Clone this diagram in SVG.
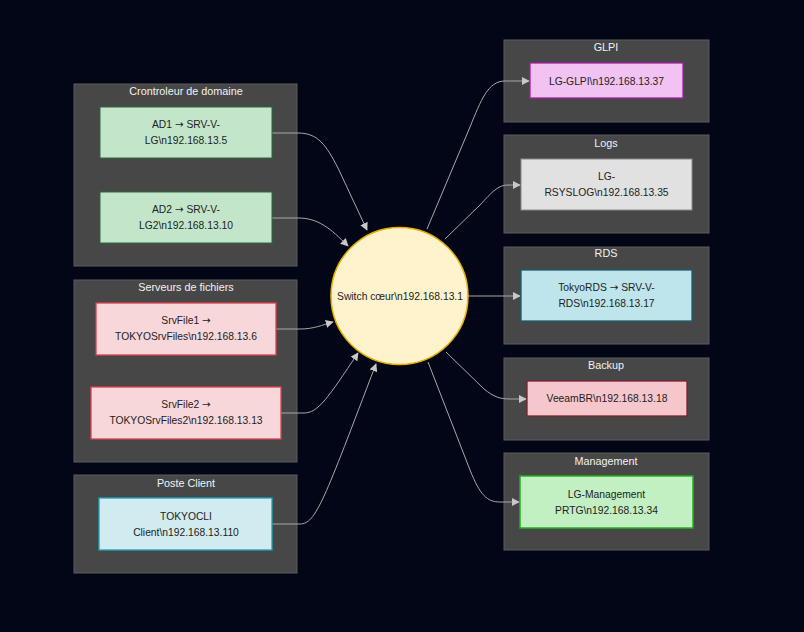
<svg xmlns="http://www.w3.org/2000/svg" width="804" height="632" viewBox="0 0 804 632">
<defs>
<marker id="arr" viewBox="0 0 10 10" refX="9" refY="5" markerWidth="8" markerHeight="8" markerUnits="userSpaceOnUse" orient="auto">
<path d="M0,0 L10,5 L0,10 z" fill="#c8c8c8"/>
</marker>
<style>
.cl{fill:#474747;stroke:#5c5c5c;stroke-width:1}
.ct{font-family:"Liberation Sans",Arial,sans-serif;font-size:10.8px;fill:#f2f2f2;text-anchor:middle}
.nt{font-family:"Liberation Sans",Arial,sans-serif;font-size:10.3px;fill:#222;text-anchor:middle}
.ar{font-family:"DejaVu Sans",sans-serif}
.e{fill:none;stroke:#a8a8a8;stroke-width:1;marker-end:url(#arr)}
</style>
</defs>
<rect width="804" height="632" fill="#020617"/>

<g id="cluster-dc">
<rect class="cl" x="74" y="84" width="223" height="182"/>
<text class="ct" x="186" y="95">Crontroleur de domaine</text>
</g>
<g id="cluster-files">
<rect class="cl" x="74" y="280" width="223" height="182"/>
<text class="ct" x="186" y="291">Serveurs de fichiers</text>
</g>
<g id="cluster-client">
<rect class="cl" x="74" y="475" width="223" height="98"/>
<text class="ct" x="186" y="487">Poste Client</text>
</g>
<g id="cluster-glpi">
<rect class="cl" x="504" y="40" width="205" height="82"/>
<text class="ct" x="606" y="51">GLPI</text>
</g>
<g id="cluster-logs">
<rect class="cl" x="504" y="135" width="205" height="98"/>
<text class="ct" x="606" y="147">Logs</text>
</g>
<g id="cluster-rds">
<rect class="cl" x="504" y="247" width="205" height="97"/>
<text class="ct" x="606" y="257">RDS</text>
</g>
<g id="cluster-backup">
<rect class="cl" x="504" y="358" width="205" height="82"/>
<text class="ct" x="606" y="369">Backup</text>
</g>
<g id="cluster-mgmt">
<rect class="cl" x="504" y="453" width="205" height="97"/>
<text class="ct" x="606" y="465">Management</text>
</g>

<g id="edges">
<path class="e" d="M272,133 L298,133 C318,133 326,145 338,168 L367,230"/>
<path class="e" d="M272,218 L298,218 C318,218 330,228 348,246"/>
<path class="e" d="M276,329 L300,329 C314,329 322,325 333,322"/>
<path class="e" d="M281,413 L304,413 C318,413 328,398 358,353"/>
<path class="e" d="M272,524 L300,524 C316,524 324,500 376,364"/>
<path class="e" d="M427,229 L470,127 C481,100 488,81 505,81 L529,81"/>
<path class="e" d="M445,239 L480,205 C492,192 498,185 508,185 L520,185"/>
<path class="e" d="M468,296 L520,296"/>
<path class="e" d="M446,352 L484,389 C494,397 500,399 510,399 L526,399"/>
<path class="e" d="M428,362 L470,470 C480,495 487,502 500,502 L519,502"/>
</g>

<g id="AD1">
<rect x="100" y="107" width="172" height="51" fill="#c3e6cb" stroke="#2b6a3a"/>
<text class="nt" x="186" y="128">AD1 <tspan class="ar">→</tspan> SRV-V-</text>
<text class="nt" x="186" y="144">LG\n192.168.13.5</text>
</g>
<g id="AD2">
<rect x="100" y="192" width="172" height="51" fill="#c3e6cb" stroke="#2b6a3a"/>
<text class="nt" x="186" y="213">AD2 <tspan class="ar">→</tspan> SRV-V-</text>
<text class="nt" x="186" y="229">LG2\n192.168.13.10</text>
</g>
<g id="SrvFile1">
<rect x="96" y="303" width="180" height="52" fill="#f8d7da" stroke="#d9414f" stroke-width="1.3"/>
<text class="nt" x="186" y="324">SrvFile1 <tspan class="ar">→</tspan></text>
<text class="nt" x="186" y="340">TOKYOSrvFiles\n192.168.13.6</text>
</g>
<g id="SrvFile2">
<rect x="91" y="387" width="190" height="52" fill="#f8d7da" stroke="#d9414f" stroke-width="1.3"/>
<text class="nt" x="186" y="408">SrvFile2 <tspan class="ar">→</tspan></text>
<text class="nt" x="186" y="424">TOKYOSrvFiles2\n192.168.13.13</text>
</g>
<g id="TOKYOCLI">
<rect x="99" y="498" width="173" height="52" fill="#d1ecf1" stroke="#1fa3b8" stroke-width="1.3"/>
<text class="nt" x="186" y="520">TOKYOCLI</text>
<text class="nt" x="186" y="536">Client\n192.168.13.110</text>
</g>
<g id="Switch">
<circle cx="399.5" cy="296" r="68.5" fill="#fff3cd" stroke="#e8b100" stroke-width="1.5"/>
<text class="nt" x="400" y="300">Switch cœur\n192.168.13.1</text>
</g>
<g id="GLPI">
<rect x="530" y="63" width="153" height="35" fill="#f2c2f2" stroke="#a321a3" stroke-width="1.3"/>
<text class="nt" x="606.5" y="85">LG-GLPI\n192.168.13.37</text>
</g>
<g id="RSYSLOG">
<rect x="521" y="159" width="171" height="51" fill="#e1e1e1" stroke="#8a8a8a"/>
<text class="nt" x="606.5" y="180">LG-</text>
<text class="nt" x="606.5" y="196">RSYSLOG\n192.168.13.35</text>
</g>
<g id="TokyoRDS">
<rect x="521" y="270" width="171" height="51" fill="#bee5eb" stroke="#17606c" stroke-width="1.3"/>
<text class="nt" x="606.5" y="291">TokyoRDS <tspan class="ar">→</tspan> SRV-V-</text>
<text class="nt" x="606.5" y="307">RDS\n192.168.13.17</text>
</g>
<g id="VeeamBR">
<rect x="527" y="381" width="160" height="35" fill="#f5c6cb" stroke="#7b2230" stroke-width="1.3"/>
<text class="nt" x="607" y="402">VeeamBR\n192.168.13.18</text>
</g>
<g id="Management">
<rect x="520" y="476" width="173" height="52" fill="#c2f0c2" stroke="#1fb41f" stroke-width="1.5"/>
<text class="nt" x="606.5" y="498">LG-Management</text>
<text class="nt" x="606.5" y="514">PRTG\n192.168.13.34</text>
</g>
</svg>
